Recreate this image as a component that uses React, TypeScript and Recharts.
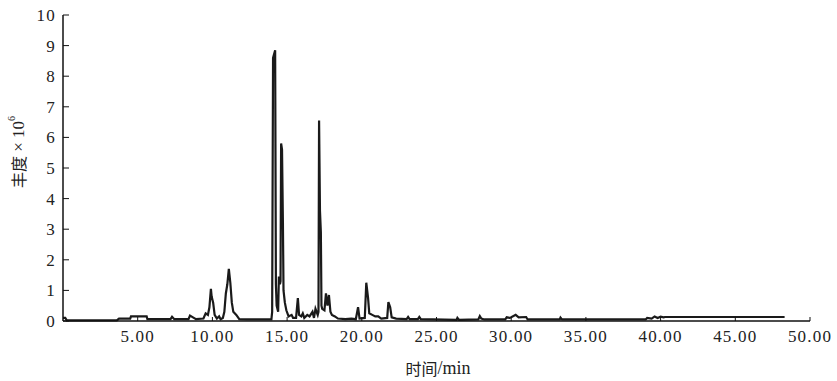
import React from "react";
import { LineChart, Line, XAxis, YAxis } from "recharts";

// retention time (min) and abundance (x10^6)
const retentionTime = [
  0.0, 0.15, 0.25, 3.6, 3.75, 4.5, 4.55, 5.6, 5.65, 7.2, 7.3, 7.45, 8.4, 8.5, 8.7, 8.9,
  9.4, 9.55, 9.7, 9.8, 9.9, 9.95, 10.05, 10.15, 10.3, 10.45, 10.55, 10.7, 10.8, 10.9,
  11.0, 11.1, 11.2, 11.3, 11.4, 11.6, 11.8, 12.3, 13.95, 14.0, 14.06, 14.2, 14.25, 14.3,
  14.4, 14.45, 14.52, 14.56, 14.6, 14.66, 14.72, 14.76, 14.85, 14.95, 15.1, 15.3, 15.4,
  15.6, 15.72, 15.8, 15.95, 16.05, 16.15, 16.35, 16.5, 16.7, 16.8, 16.9, 17.05, 17.1,
  17.14, 17.2, 17.26, 17.3, 17.35, 17.5, 17.6, 17.7, 17.8, 17.9, 18.0, 18.2, 18.4, 18.9,
  19.3, 19.6, 19.75, 19.85, 20.2, 20.3, 20.42, 20.5, 20.7, 20.9, 21.1, 21.3, 21.7, 21.78,
  21.9, 22.0, 22.3, 23.0, 23.1, 23.2, 23.75, 23.85, 23.95, 26.35, 26.4, 26.5, 27.8, 27.9,
  28.0, 28.2, 29.6, 29.7, 29.9, 30.0, 30.3, 30.5, 31.0, 31.1, 33.25, 33.3, 33.4, 39.0,
  39.1, 39.4, 39.6, 39.8, 40.0, 40.2, 40.3, 48.3,
];

const abundance = [
  0.1, 0.1, 0.02, 0.02, 0.08, 0.08, 0.15, 0.15, 0.06, 0.06, 0.14, 0.06, 0.06, 0.18, 0.12, 0.06,
  0.08, 0.25, 0.2, 0.45, 1.05, 0.8, 0.6, 0.2, 0.08, 0.15, 0.06, 0.1, 0.3, 0.9,
  1.2, 1.7, 1.25, 0.6, 0.3, 0.2, 0.06, 0.05, 0.05, 0.3, 8.6, 8.85, 1.2, 0.5,
  0.3, 1.45, 1.2, 1.3, 5.8, 5.6, 3.2, 1.0, 0.6, 0.35, 0.15, 0.2, 0.1,
  0.1, 0.75, 0.2, 0.15, 0.25, 0.1, 0.2, 0.15, 0.3, 0.1, 0.4, 0.2, 0.3,
  6.55, 3.6, 2.9, 0.5, 0.4, 0.35, 0.9, 0.5, 0.85, 0.3, 0.2, 0.15, 0.08, 0.06,
  0.08, 0.06, 0.45, 0.08, 0.1, 1.25, 0.75, 0.25, 0.2, 0.15, 0.15, 0.08, 0.1, 0.62,
  0.45, 0.12, 0.08, 0.06, 0.13, 0.06, 0.06, 0.13, 0.06, 0.04, 0.1, 0.04, 0.05, 0.16,
  0.08, 0.05, 0.05, 0.12, 0.1, 0.12, 0.2, 0.12, 0.13, 0.05, 0.05, 0.11, 0.05, 0.05,
  0.1, 0.08, 0.15, 0.1, 0.14, 0.12, 0.13, 0.13,
];

const xTicks = [5, 10, 15, 20, 25, 30, 35, 40, 45, 50];
const yTicks = [0, 1, 2, 3, 4, 5, 6, 7, 8, 9, 10];

const data = retentionTime.map((t, i) => ({ t, v: abundance[i] }));

const serif = "Liberation Serif";
const cjk = "Noto Sans CJK SC";

const tickStyle = { fontFamily: serif, fontSize: 17, fill: "#222", letterSpacing: 1.2 };

const YLabel = () => (
  <text
    x={18}
    y={152}
    transform="rotate(-90 18 152)"
    textAnchor="middle"
    dominantBaseline="central"
    fill="#222"
    fontSize={16}
  >
    <tspan fontFamily={cjk}>丰度</tspan>
    <tspan fontFamily={serif} fontSize={17}> × 10</tspan>
    <tspan fontFamily={serif} fontSize={10} dy={-7}>6</tspan>
  </text>
);

const XLabel = () => (
  <text x={438} y={368} textAnchor="middle" dominantBaseline="central" fill="#222" fontSize={16}>
    <tspan fontFamily={cjk}>时间</tspan>
    <tspan fontFamily={serif} fontSize={18}>/min</tspan>
  </text>
);

export default function App() {
  return (
    <div style={{ position: "absolute", left: 0, top: 0, background: "#fff" }}>
      <LineChart
        width={837}
        height={381}
        data={data}
        margin={{ top: 15, right: 27, bottom: 30, left: 0 }}
      >
        <XAxis
          dataKey="t"
          type="number"
          domain={[0, 50]}
          ticks={xTicks}
          tickFormatter={(v: number) => v.toFixed(2)}
          height={30}
          tickSize={-4}
          tickMargin={13}
          axisLine={{ stroke: "#111", strokeWidth: 1.5 }}
          tickLine={{ stroke: "#111", strokeWidth: 1 }}
          tick={tickStyle}
          allowDataOverflow
        />
        <YAxis
          type="number"
          domain={[0, 10]}
          ticks={yTicks}
          width={63}
          tickSize={-6}
          tickMargin={13}
          interval={0}
          axisLine={{ stroke: "#111", strokeWidth: 1.5 }}
          tickLine={{ stroke: "#111", strokeWidth: 1 }}
          tick={tickStyle}
        />
        <Line
          dataKey="v"
          type="linear"
          stroke="#1a1a1a"
          strokeWidth={2.2}
          dot={false}
          isAnimationActive={false}
        />
        <YLabel />
        <XLabel />
      </LineChart>
    </div>
  );
}
